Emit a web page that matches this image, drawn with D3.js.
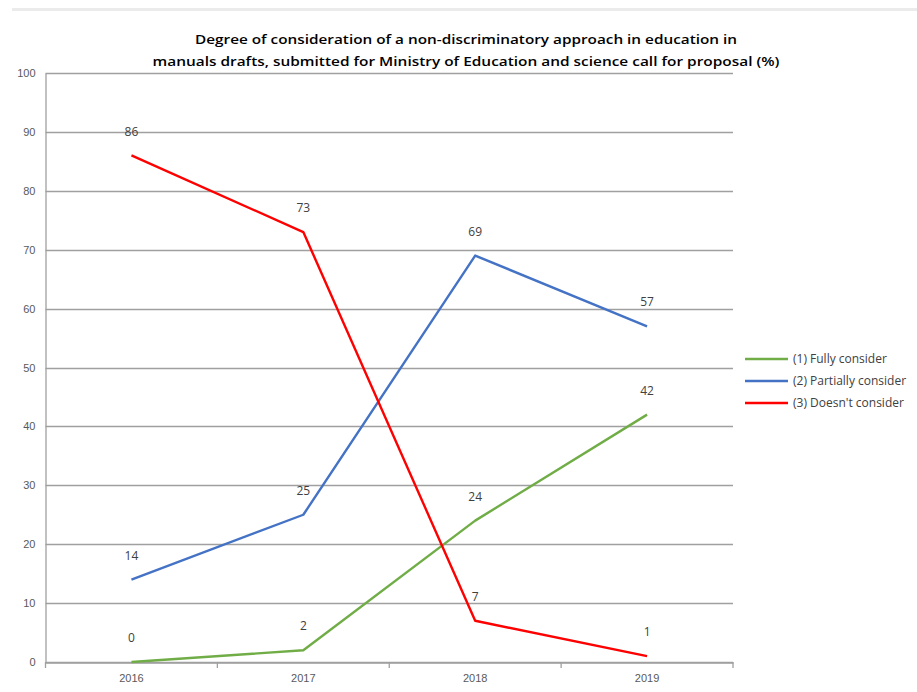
<!DOCTYPE html>
<html>
<head>
<meta charset="utf-8">
<script src="https://cdn.jsdelivr.net/npm/d3@7"></script>
<style>
  body { margin: 0; background: #fff; }
  svg { display: block; font-family: "Open Sans", "Noto Sans", sans-serif; }
</style>
</head>
<body>
<div id="chart"></div>
<script>
// chart data
const years = ["2016", "2017", "2018", "2019"];
const fully = [0, 2, 24, 42];
const partially = [14, 25, 69, 57];
const doesnt = [86, 73, 7, 1];
const seriesNames = ["(1) Fully consider", "(2) Partially consider", "(3) Doesn't consider"];
const yTicks = [0, 10, 20, 30, 40, 50, 60, 70, 80, 90, 100];
const titleLines = [
  "Degree of consideration of a non-discriminatory approach in education in",
  "manuals drafts, submitted for Ministry of Education and science call for proposal  (%)"
];

const W = 917, H = 692;
const colors = ["#70ad47", "#4472c4", "#ff0000"];
const series = [fully, partially, doesnt];

const svg = d3.select("#chart").append("svg")
  .attr("width", W)
  .attr("height", H);

// faint spreadsheet strip along the top
svg.append("rect")
  .attr("x", 12).attr("y", 8)
  .attr("width", W - 12).attr("height", 3)
  .attr("fill", "#ebebeb");

const x = d3.scaleBand().domain(years).range([45.5, 733]);
const y = d3.scaleLinear().domain([0, 100]).range([662, 73]);

// gridlines
svg.append("g")
  .selectAll("line")
  .data(yTicks)
  .join("line")
  .attr("x1", x.range()[0])
  .attr("x2", x.range()[1])
  .attr("y1", d => Math.round(y(d)) + 0.5)
  .attr("y2", d => Math.round(y(d)) + 0.5)
  .attr("stroke", "#a0a0a0")
  .attr("stroke-width", 1.3);

// y axis
const yAxis = svg.append("g")
  .attr("transform", `translate(${x.range()[0]},0)`)
  .call(d3.axisLeft(y).tickValues(yTicks).tickSize(0).tickPadding(10));
yAxis.select(".domain").attr("stroke", "#a0a0a0").attr("stroke-width", 1.3);
yAxis.selectAll("text")
  .attr("fill", "#595959")
  .style("font-size", "11px");

// x axis with ticks between categories
const xAxis = svg.append("g")
  .attr("transform", `translate(0,${Math.round(y(0)) + 0.5})`)
  .call(d3.axisBottom(x).tickSize(0).tickPadding(12));
xAxis.select(".domain").attr("stroke", "#a0a0a0").attr("stroke-width", 1.3);
xAxis.selectAll("text")
  .attr("fill", "#595959")
  .style("font-size", "11px");

const bounds = years.map(d => x(d)).concat([x.range()[1]]);
svg.append("g")
  .selectAll("line")
  .data(bounds)
  .join("line")
  .attr("x1", d => d).attr("x2", d => d)
  .attr("y1", Math.round(y(0))).attr("y2", Math.round(y(0)) + 6)
  .attr("stroke", "#a0a0a0")
  .attr("stroke-width", 1.3);

const cx = d => x(d) + x.bandwidth() / 2;

const line = d3.line()
  .x((d, i) => cx(years[i]))
  .y(d => y(d));

// series lines
svg.append("g")
  .selectAll("path")
  .data(series)
  .join("path")
  .attr("d", d => line(d))
  .attr("fill", "none")
  .attr("stroke", (d, i) => colors[i])
  .attr("stroke-width", 2.4)
  .attr("stroke-linejoin", "round");

// data labels
series.forEach(vals => {
  svg.append("g")
    .selectAll("text")
    .data(vals)
    .join("text")
    .attr("x", (d, i) => cx(years[i]))
    .attr("y", d => y(d) - 24)
    .attr("dy", "0.35em")
    .attr("text-anchor", "middle")
    .attr("fill", "#404040")
    .style("font-size", "12px")
    .text(d => d);
});

// title
const titleWidths = [542, 627];
svg.append("g")
  .selectAll("text")
  .data(titleLines)
  .join("text")
  .attr("x", 466)
  .attr("y", (d, i) => 44 + i * 22)
  .attr("text-anchor", "middle")
  .attr("fill", "#000")
  .style("font-size", "13px")
  .style("font-weight", "600")
  .attr("textLength", (d, i) => titleWidths[i])
  .attr("lengthAdjust", "spacingAndGlyphs")
  .text(d => d);

// legend
const legend = svg.append("g")
  .selectAll("g")
  .data(seriesNames)
  .join("g")
  .attr("transform", (d, i) => `translate(745,${359 + i * 22})`);
legend.append("line")
  .attr("x1", 0).attr("x2", 43)
  .attr("stroke", (d, i) => colors[i])
  .attr("stroke-width", 2.4);
legend.append("text")
  .attr("x", 48)
  .attr("dy", "0.35em")
  .attr("fill", "#404040")
  .style("font-size", "12px")
  .text(d => d);
</script>
</body>
</html>
